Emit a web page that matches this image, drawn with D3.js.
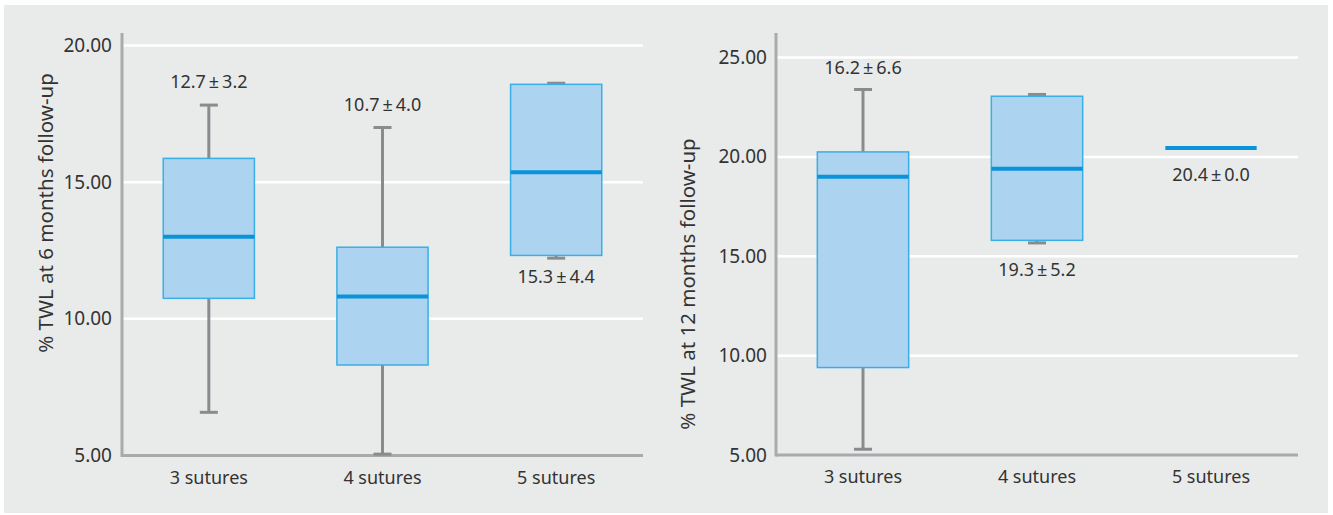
<!DOCTYPE html>
<html>
<head>
<meta charset="utf-8">
<script src="https://cdn.jsdelivr.net/npm/d3@7"></script>
<style>
  body { margin: 0; background: #fff; }
  svg { display: block; font-family: "Noto Sans", sans-serif; }
</style>
</head>
<body>
<div id="vis"></div>
<script>
// categories shared by both panels
const categories = ["3 sutures", "4 sutures", "5 sutures"];

// 6 months follow-up
const m6Ticks = [5, 10, 15, 20];
const m6Min = [6.58, 5.05, 12.22];
const m6Q1 = [10.75, 8.31, 12.32];
const m6Median = [13.0, 10.82, 15.36];
const m6Q3 = [15.87, 12.62, 18.58];
const m6Max = [17.82, 17.0, 18.62];
const m6Labels = ["12.7\u2009±\u20093.2", "10.7\u2009±\u20094.0", "15.3\u2009±\u20094.4"];
const m6LabelSide = ["above", "above", "below"];

// 12 months follow-up
const m12Ticks = [5, 10, 15, 20, 25];
const m12Min = [5.29, 15.67, 20.45];
const m12Q1 = [9.4, 15.8, 20.45];
const m12Median = [19.0, 19.4, 20.45];
const m12Q3 = [20.25, 23.05, 20.45];
const m12Max = [23.39, 23.14, 20.45];
const m12Labels = ["16.2\u2009±\u20096.6", "19.3\u2009±\u20095.2", "20.4\u2009±\u20090.0"];
const m12LabelSide = ["above", "below", "below"];

let svg = d3.select('#vis')
  .append('svg')
  .attr('width', 1333)
  .attr('height', 515)

// grey background
svg.append('rect')
  .attr('x', 4).attr('y', 5)
  .attr('width', 1324).attr('height', 508)
  .attr('fill', '#e9ebea')

function drawPanel(p) {
  let x = d3.scaleBand()
    .domain(categories)
    .range([p.left, p.right])
    .padding(0)

  let y = d3.scaleLinear()
    .domain([p.ticks[0], p.ticks[p.ticks.length - 1]])
    .range([p.bottom, p.top])

  let g = svg.append('g')

  // white gridlines
  g.selectAll('.grid')
    .data(p.ticks.slice(1))
    .enter().append('line')
    .attr('x1', p.left).attr('x2', p.right)
    .attr('y1', d => y(d)).attr('y2', d => y(d))
    .attr('stroke', '#fff')
    .attr('stroke-width', 2.5)

  // y axis labels (no tick marks)
  let yAxis = g.append('g')
    .attr('transform', 'translate(' + p.left + ',0)')
    .call(d3.axisLeft(y).tickValues(p.ticks).tickSize(0).tickPadding(p.tickPad).tickFormat(d3.format('.2f')))
  yAxis.select('.domain').remove()
  yAxis.selectAll('text')
    .attr('font-size', 19)
    .attr('font-family', '"Noto Sans", sans-serif')
    .attr('fill', '#333')

  // axis lines
  g.append('line')
    .attr('x1', p.left).attr('x2', p.left)
    .attr('y1', p.axisTop).attr('y2', p.bottom + 1.5)
    .attr('stroke', '#a8aaac').attr('stroke-width', 3)
  g.append('line')
    .attr('x1', p.left).attr('x2', p.right)
    .attr('y1', p.bottom).attr('y2', p.bottom)
    .attr('stroke', '#a8aaac').attr('stroke-width', 3)

  // category labels
  g.selectAll('.cat')
    .data(categories)
    .enter().append('text')
    .attr('x', d => x(d) + x.bandwidth() / 2)
    .attr('y', p.bottom + 28)
    .attr('text-anchor', 'middle')
    .attr('font-size', 18)
    .attr('fill', '#333')
    .text(d => d)

  let rows = categories.map((c, i) => ({
    cat: c, min: p.min[i], q1: p.q1[i], med: p.median[i], q3: p.q3[i], max: p.max[i],
    label: p.labels[i], side: p.side[i]
  }))

  let bw = x.bandwidth() * 0.525
  let capW = 18

  rows.forEach(d => {
    let cx = x(d.cat) + x.bandwidth() / 2
    let flat = d.q1 === d.q3

    if (!flat) {
      // whiskers
      g.append('line')
        .attr('x1', cx).attr('x2', cx)
        .attr('y1', y(d.max)).attr('y2', y(d.q3))
        .attr('stroke', '#8a8b8e').attr('stroke-width', 3)
      g.append('line')
        .attr('x1', cx).attr('x2', cx)
        .attr('y1', y(d.q1)).attr('y2', y(d.min))
        .attr('stroke', '#8a8b8e').attr('stroke-width', 3)
      // caps
      ;[d.max, d.min].forEach(v => {
        g.append('line')
          .attr('x1', cx - capW / 2).attr('x2', cx + capW / 2)
          .attr('y1', y(v)).attr('y2', y(v))
          .attr('stroke', '#8a8b8e').attr('stroke-width', 3)
      })
      // box
      g.append('rect')
        .attr('x', cx - bw / 2)
        .attr('y', y(d.q3))
        .attr('width', bw)
        .attr('height', y(d.q1) - y(d.q3))
        .attr('fill', '#acd3f0')
        .attr('stroke', '#3aafe6')
        .attr('stroke-width', 1.5)
    }

    // median
    g.append('line')
      .attr('x1', cx - bw / 2).attr('x2', cx + bw / 2)
      .attr('y1', y(d.med)).attr('y2', y(d.med))
      .attr('stroke', '#0a93d8').attr('stroke-width', 4)

    // mean ± sd label
    let ly = d.side === 'above' ? y(d.max) - p.aboveOff : y(d.min) + p.belowOff
    g.append('text')
      .attr('x', cx)
      .attr('y', ly)
      .attr('text-anchor', 'middle')
      .attr('font-size', 18)
      .attr('fill', '#333')
      .text(d.label)
  })

  // y axis title
  g.append('text')
    .attr('transform', 'translate(' + p.titleX + ',' + p.titleY + ') rotate(-90)')
    .attr('text-anchor', 'middle')
    .attr('dominant-baseline', 'central')
    .attr('font-size', 20.5)
    .attr('fill', '#333')
    .text(p.title)
}

drawPanel({
  left: 122, right: 643, top: 45.5, bottom: 455.5, axisTop: 33, tickPad: 10,
  ticks: m6Ticks, min: m6Min, q1: m6Q1, median: m6Median, q3: m6Q3, max: m6Max,
  labels: m6Labels, side: m6LabelSide, aboveOff: 17, belowOff: 25,
  title: '% TWL at 6 months follow-up', titleX: 45, titleY: 213
})

drawPanel({
  left: 776, right: 1298, top: 57.5, bottom: 455, axisTop: 33, tickPad: 9,
  ticks: m12Ticks, min: m12Min, q1: m12Q1, median: m12Median, q3: m12Q3, max: m12Max,
  labels: m12Labels, side: m12LabelSide, aboveOff: 15, belowOff: 33,
  title: '% TWL at 12 months follow-up', titleX: 687, titleY: 284
})
</script>
</body>
</html>
